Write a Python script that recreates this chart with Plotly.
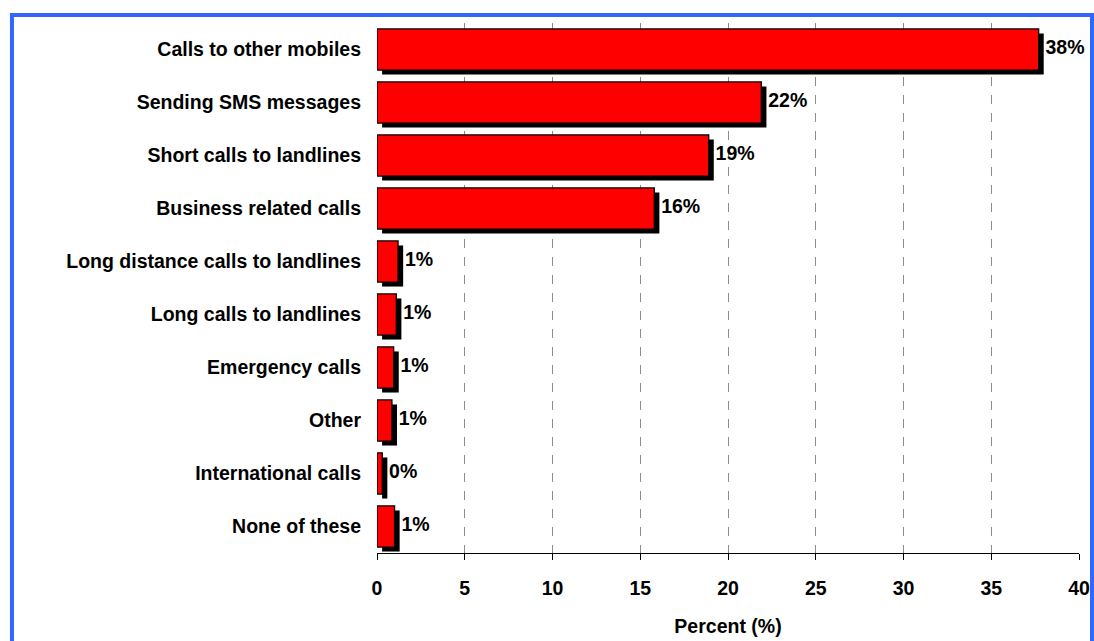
import plotly.graph_objects as go

categories = [
    "Calls to other mobiles",
    "Sending SMS messages",
    "Short calls to landlines",
    "Business related calls",
    "Long distance calls to landlines",
    "Long calls to landlines",
    "Emergency calls",
    "Other",
    "International calls",
    "None of these",
]
percent = [37.7, 21.9, 18.9, 15.8, 1.2, 1.1, 0.95, 0.85, 0.3, 1.0]
x_ticks = [0, 5, 10, 15, 20, 25, 30, 35, 40]

FONT = "Liberation Sans, Arial, sans-serif"
FS = 19.5
BAR_W = 0.775
SHADOW_DX = 0.29   # shadow shift along the value axis
SHADOW_DY = 0.085  # shadow shift along the category axis (downwards)
LABEL_PAD = 0.1    # gap between shadow end and value label

labels = [f"{round(v):d}%" for v in percent]

fig = go.Figure()

# drop shadow behind each bar
fig.add_trace(go.Bar(
    y=categories, x=percent, base=[SHADOW_DX] * len(percent),
    orientation="h", width=BAR_W, offset=-BAR_W / 2 + SHADOW_DY,
    marker=dict(color="black", line=dict(width=0)),
    hoverinfo="skip", showlegend=False,
))
# main red bars
fig.add_trace(go.Bar(
    y=categories, x=percent, orientation="h", width=BAR_W,
    marker=dict(color="#FF0000", line=dict(color="black", width=1.3)),
    showlegend=False,
))
# value labels
fig.add_trace(go.Scatter(
    y=categories, x=[v + SHADOW_DX + LABEL_PAD for v in percent], mode="text",
    text=labels, textposition="middle right",
    textfont=dict(family=FONT, size=FS, color="black", weight="bold"),
    hoverinfo="skip", showlegend=False, cliponaxis=False,
))

fig.update_layout(
    barmode="overlay",
    width=1094, height=641,
    margin=dict(l=377, r=15, t=23, b=88, autoexpand=False),
    paper_bgcolor="white", plot_bgcolor="white",
    font=dict(family=FONT, size=FS, color="black"),
    xaxis=dict(
        range=[0, 40], tickvals=x_ticks, ticktext=[str(t) for t in x_ticks],
        showgrid=True, gridcolor="#8c8c8c", griddash="dash", gridwidth=1,
        zeroline=False, showline=True, linecolor="black", linewidth=1,
        ticks="outside", ticklen=6, tickcolor="black",
        ticklabelstandoff=12,
        tickfont=dict(family=FONT, size=FS, weight="bold"),
        title=dict(text="Percent (%)", standoff=20,
                   font=dict(family=FONT, size=FS, weight="bold")),
    ),
    yaxis=dict(
        categoryorder="array", categoryarray=categories, autorange="reversed",
        showgrid=False, zeroline=False, showline=False, ticks="",
        ticklabelstandoff=15,
        tickfont=dict(family=FONT, size=FS, weight="bold"),
    ),
    shapes=[dict(
        type="rect", xref="paper", yref="paper",
        x0=-0.52, x1=1.0185, y0=-0.25, y1=1.015,
        line=dict(color="#3366FF", width=4), fillcolor="rgba(0,0,0,0)",
        layer="above",
    )],
)

fig.write_html("out.html")
